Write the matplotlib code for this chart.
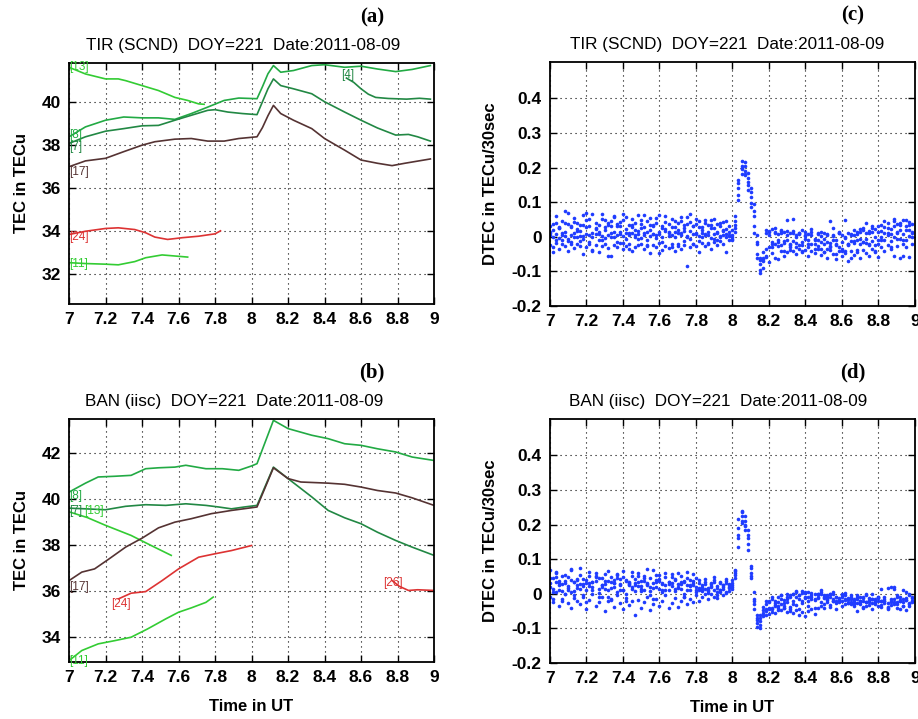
import numpy as np
import matplotlib
matplotlib.use("Agg")
import matplotlib.pyplot as plt
from matplotlib.ticker import FormatStrFormatter

plt.rcParams["font.family"] = ["Liberation Sans", "DejaVu Sans"]
plt.rcParams["axes.unicode_minus"] = False

# ---- TEC curves, station TIR (panel a): (times in UT h, TEC in TECu) ----
a_sat13_t = [7.0, 7.09, 7.2, 7.27, 7.31, 7.4, 7.49, 7.58, 7.65, 7.71, 7.74]
a_sat13_v = [41.6, 41.29, 41.06, 41.06, 40.98, 40.75, 40.52, 40.2, 40.06, 39.9, 39.88]
a_sat8_t = [7.0, 7.09, 7.2, 7.3, 7.4, 7.49, 7.58, 7.67, 7.76, 7.85, 7.93, 8.03,
            8.06, 8.09, 8.12, 8.16, 8.23, 8.33, 8.4, 8.51, 8.6, 8.69, 8.79, 8.88, 8.98]
a_sat8_v = [38.37, 38.83, 39.14, 39.29, 39.25, 39.25, 39.18, 39.45, 39.75, 40.06, 40.17, 40.14,
            40.7, 41.3, 41.68, 41.37, 41.45, 41.68, 41.72, 41.6, 41.65, 41.52, 41.4, 41.5, 41.68]
a_sat4_t = [8.52, 8.56, 8.6, 8.64, 8.68, 8.75, 8.85, 8.92, 8.98]
a_sat4_v = [41.1, 40.9, 40.6, 40.35, 40.2, 40.15, 40.12, 40.16, 40.12]
a_sat7_t = [7.0, 7.09, 7.2, 7.3, 7.4, 7.49, 7.58, 7.67, 7.76, 7.8, 7.87, 7.95, 8.03,
            8.06, 8.09, 8.12, 8.16, 8.23, 8.33, 8.4, 8.51, 8.6, 8.69, 8.79, 8.86, 8.91, 8.98]
a_sat7_v = [38.06, 38.37, 38.63, 38.75, 38.88, 38.9, 39.14, 39.37, 39.6, 39.63, 39.52, 39.45, 39.4,
            40.0, 40.6, 41.06, 40.75, 40.6, 40.37, 40.0, 39.52, 39.14, 38.78, 38.45, 38.48, 38.37, 38.17]
a_sat17_t = [7.0, 7.09, 7.2, 7.3, 7.4, 7.47, 7.58, 7.67, 7.76, 7.85, 7.93, 8.03,
             8.06, 8.09, 8.12, 8.16, 8.23, 8.33, 8.4, 8.51, 8.6, 8.69, 8.77, 8.84, 8.98]
a_sat17_v = [36.98, 37.25, 37.37, 37.68, 37.98, 38.14, 38.26, 38.29, 38.17, 38.17, 38.29, 38.37,
             38.8, 39.35, 39.83, 39.45, 39.14, 38.75, 38.29, 37.75, 37.29, 37.14, 37.03, 37.14, 37.34]
a_sat24_t = [7.0, 7.09, 7.2, 7.27, 7.36, 7.42, 7.47, 7.54, 7.62, 7.71, 7.8, 7.83]
a_sat24_v = [33.83, 33.98, 34.11, 34.14, 34.06, 33.91, 33.71, 33.6, 33.68, 33.75, 33.86, 34.0]
a_sat11_t = [7.0, 7.09, 7.2, 7.27, 7.36, 7.42, 7.51, 7.58, 7.65]
a_sat11_v = [32.52, 32.48, 32.45, 32.42, 32.57, 32.75, 32.88, 32.83, 32.78]

# ---- TEC curves, station BAN (panel b) ----
b_sat8_t = [7.0, 7.09, 7.16, 7.25, 7.34, 7.42, 7.49, 7.58, 7.64, 7.75, 7.84, 7.93, 8.0, 8.03,
            8.12, 8.2, 8.33, 8.42, 8.51, 8.6, 8.69, 8.79, 8.88, 9.0]
b_sat8_v = [40.31, 40.7, 40.97, 41.0, 41.04, 41.33, 41.37, 41.4, 41.48, 41.33, 41.33, 41.26, 41.45, 41.55,
            43.44, 43.08, 42.79, 42.64, 42.42, 42.35, 42.2, 42.06, 41.84, 41.69]
b_sat7_t = [7.0, 7.09, 7.2, 7.31, 7.42, 7.53, 7.64, 7.75, 7.82, 7.89, 7.96, 8.03,
            8.12, 8.2, 8.33, 8.42, 8.51, 8.6, 8.69, 8.79, 8.88, 9.0]
b_sat7_v = [39.61, 39.58, 39.54, 39.69, 39.76, 39.73, 39.8, 39.73, 39.66, 39.58, 39.66, 39.73,
            41.4, 40.9, 40.1, 39.51, 39.19, 38.93, 38.56, 38.2, 37.91, 37.55]
b_sat13_t = [7.0, 7.1, 7.2, 7.34, 7.45, 7.56]
b_sat13_v = [39.45, 39.2, 38.86, 38.42, 37.98, 37.55]
b_sat17_t = [7.0, 7.07, 7.14, 7.22, 7.31, 7.4, 7.49, 7.58, 7.67, 7.78, 7.89, 8.03,
             8.12, 8.2, 8.27, 8.42, 8.51, 8.6, 8.69, 8.79, 8.88, 9.0]
b_sat17_v = [36.45, 36.82, 36.96, 37.4, 37.91, 38.3, 38.75, 39.0, 39.15, 39.37, 39.51, 39.66,
             41.37, 40.9, 40.75, 40.7, 40.65, 40.53, 40.38, 40.27, 40.06, 39.73]
b_sat24_t = [7.27, 7.34, 7.42, 7.51, 7.6, 7.71, 7.8, 7.89, 8.0]
b_sat24_v = [35.65, 35.9, 35.97, 36.45, 36.96, 37.47, 37.62, 37.76, 37.98]
b_sat26_t = [8.77, 8.81, 8.86, 8.91, 9.0]
b_sat26_v = [36.45, 36.2, 36.02, 36.05, 36.02]
b_sat11_t = [7.0, 7.07, 7.16, 7.25, 7.34, 7.43, 7.53, 7.6, 7.67, 7.75, 7.79]
b_sat11_v = [32.96, 33.4, 33.69, 33.83, 33.98, 34.34, 34.78, 35.07, 35.26, 35.5, 35.73]

# ---- DTEC (1e-3 TECu/30sec), one value per minute from 7:00 UT, five satellites ----
c_dtec = [
    [32, 38, 41, 27, 45, 75, 36, 29, 44, 40, 33, 62, 48, 30, 66, 41, 35, 52, 28, 39,
     45, 60, 37, 31, 49, 58, 33, 27, 41, 64, 38, 29, 46, 55, 34, 40, 62, 31, 44, 36,
     51, 28, 39, 47, 33, 58, 42, 30, 37, 45, 29, 41, 35, 48, 26, 38, 31, 44, 22, 30,
     5, 45, 165, 218, 190, 150, 98, 30, -62, -105, -60, 12, 18, 22, 15, 8, 20, 14, 48, 10,
     18, 5, 12, 20, 2, 9, 15, -5, 8, 3, -5, 6, 45, 2, -8, 10, 4, -3, 12, 6,
     20, 8, 14, 25, 10, 18, 30, 22, 15, 35, 28, 40, 22, 45, 38, 20, 48, 32, 42, 15],
    [5, 0, 8, -3, 10, 2, -5, 6, 12, 0, 3, -6, 9, 4, -2, 7, 14, 1, -4, 5,
     10, -1, 6, 15, 2, -7, 4, 11, 0, 8, -3, 5, 13, 2, 9, -4, 7, 0, 16, 3,
     6, -2, 11, 4, 18, 1, -5, 8, 12, 3, 0, 9, 5, -3, 7, 14, 2, 6, -1, 4,
     0, 25, 120, 195, 205, 170, 128, 75, 5, -68, -90, -55, -30, -15, -22, -10, -25, -18, -8, -20,
     -12, 0, -25, -15, -5, -30, -20, -10, -28, -15, -22, -35, -18, -10, -25, -30, -15, -40, -20, -12,
     -18, -8, -22, -15, -5, -20, -12, -25, -10, -2, -8, 5, -12, 0, 10, -5, 8, -10, 3, 0],
    [-25, -30, -18, -35, -22, -28, -40, -15, -32, -20, -26, -50, -30, -22, -38, -25, -45, -28, -20, -33,
     -55, -24, -30, -18, -36, -27, -22, -42, -30, -25, -20, -35, -28, -46, -25, -30, -18, -38, -26, -32,
     -22, -40, -28, -35, -24, -85, -30, -20, -26, -45, -18, -28, -22, -35, -15, -25, -12, -20, -45, -10,
     -5, 15, 105, 180, 215, 185, 140, 95, -20, -78, -65, -58, -72, -48, -60, -65, -40, -55, -45, -38,
     -42, -50, -35, -45, -38, -55, -40, -48, -36, -52, -45, -60, -38, -50, -65, -42, -55, -48, -70, -40,
     -52, -45, -60, -38, -48, -55, -35, -42, -58, -30, -40, -25, -35, -55, -28, -62, -20, -30, -58, -22],
    [15, -45, 60, 25, -10, 40, 68, -20, 55, 18, -12, 35, 70, 50, -40, 22, -8, 65, 48, -55,
     30, 58, -15, 42, 66, 12, -35, 52, 20, -5, 48, 62, -25, 35, 8, 55, -48, 25, 60, 15,
     -30, 45, 20, 58, -12, 38, 65, -22, 50, 28, 10, 48, -18, 35, 52, -8, 40, 20, 45, 15,
     20, 60, 140, 200, 180, 135, 85, 10, -50, -95, -45, 20, 5, -30, 25, -15, 12, -40, 18, -25,
     50, -30, 10, -42, 5, -20, 22, -35, -8, 15, -45, 8, -28, 25, -50, 12, -35, 48, -20, -60,
     5, -38, 22, -15, 40, -25, 15, -45, 30, -10, 45, 10, -30, 50, -5, 35, -55, 48, 20, 38],
    [10, 20, -8, 25, 5, 15, -12, 30, 0, 22, 18, 2, 28, -15, 12, 25, 8, -10, 20, 35,
     -2, 15, 30, 8, -18, 22, 12, 35, 5, 18, 25, 12, -10, 20, 30, 5, 15, -15, 22, 10,
     28, 15, -20, 12, 25, 0, 18, 32, 8, -12, 20, 5, 15, 25, -5, 12, 0, 18, 8, 2,
     -8, 35, 155, 205, 178, 158, 115, 60, -15, -60, -70, -35, 15, -20, 10, -28, 18, -12, 5, -30,
     12, -18, 8, -25, 15, -8, 5, -22, 12, -35, 10, -15, -30, 5, -20, 15, -40, 0, -25, 8,
     -12, 15, -5, 20, -18, 10, 25, 0, -20, 18, 12, 25, 8, 30, 15, 40, -8, 20, 35, 10],
]
d_dtec = [
    [70, 45, 60, 38, 52, 30, 48, 72, 35, 42, 55, 28, 40, 62, 33, 50, 45, 25, 58, 38,
     48, 30, 55, 42, 65, 36, 28, 50, 44, 60, 38, 52, 32, 45, 70, 40, 55, 30, 48, 35,
     58, 42, 28, 50, 36, 62, 40, 25, 45, 30, 20, 35, 18, 28, 40, 22, 30, 15, 38, 25,
     30, 70, 215, 240, 225, 185, 80, -20, -95, -60, -48, -30, -22, -15, -28, -10, -5, -18, 0, -8,
     -2, 5, -5, 8, 2, -10, 3, 0, -8, 5, -12, -5, 0, -15, -8, -20, -10, 2, -15, -5,
     -18, -10, -25, -12, -5, -20, -15, -28, -8, -22, -15, 18, -20, 15, -25, -10, 12, -18, -5, -12],
    [20, 5, 35, 12, 28, 0, 18, 40, 8, 25, 15, -5, 30, 22, 10, 38, 2, 20, 28, -8,
     18, 32, 5, 25, 12, -2, 30, 20, 8, 35, 22, 10, 28, -5, 18, 35, 15, 5, 25, 12,
     30, 8, 20, 15, -2, 25, 10, 32, 5, 18, 8, 15, 2, 20, 10, -5, 12, 25, 5, 18,
     15, 55, 170, 225, 210, 170, 60, -30, -70, -80, -55, -60, -40, -52, -35, -48, -30, -42, -25, -38,
     -20, -32, -15, -28, -10, -22, -5, -18, -12, 0, -8, -15, -2, -20, -10, -25, -5, -18, -12, -30,
     -25, -15, -30, -20, -35, -18, -28, -22, -12, -32, -20, -38, -25, -15, -30, -22, -35, -18, -28, -10],
    [-10, -25, 5, -35, -15, 0, -28, -40, -12, -20, -30, -8, -45, -18, -2, -35, -25, -10, -50, -20,
     -15, -38, -5, -28, -45, -12, -32, -22, -60, -18, -40, -25, -10, -48, -30, -15, -35, -20, -5, -42,
     -28, -12, -38, -22, -8, -30, -15, -25, -5, -20, -10, -2, -15, 0, -8, -12, 5, -5, 2, 8,
     20, 45, 135, 205, 195, 160, 50, -45, -85, -70, -65, -50, -58, -45, -55, -40, -48, -35, -52, -45,
     -55, -48, -60, -52, -65, -50, -45, -58, -40, -35, -30, -25, -38, -20, -28, -15, -22, -30, -18, -25,
     -35, -28, -20, -40, -25, -32, -15, -30, -22, -38, -28, -45, -32, -25, -40, -20, -35, -48, -30, -25],
    [45, -15, 62, 30, -20, 55, 10, 68, -5, 40, 75, 22, -25, 50, 35, 60, -10, 45, 15, 65,
     -18, 40, 58, 12, 48, -22, 35, 62, 25, 52, 8, 45, 72, 20, -15, 55, 38, 10, 60, 28,
     48, 15, 60, 35, -10, 45, 22, 58, 12, 40, 25, 42, 10, 30, 48, 5, 35, 20, 42, 28,
     25, 65, 190, 235, 200, 125, 75, 5, -60, -90, -38, -20, -45, -10, -32, -25, -5, -40, -15, -50,
     -30, -8, -45, -20, 5, -35, -15, -42, -2, -25, -40, -10, -32, 0, -45, -18, -35, -5, -28, -15,
     -30, -50, -10, -38, 0, -25, -45, -15, -35, 15, -22, -40, 20, -30, -8, -45, -15, 5, -35, -20],
    [30, 15, 48, 25, 8, 38, 22, 5, 35, 18, 28, 42, 10, 32, 20, 48, 15, 25, 38, 12,
     35, 20, 45, 28, 10, 40, 25, 15, 32, 22, 15, 38, 25, 8, 30, 20, 42, 28, 12, 35,
     22, 40, 18, 28, 35, 12, 25, 38, 20, 10, 15, 28, 8, 22, 35, 18, 12, 25, 30, 20,
     40, 60, 160, 210, 185, 145, 45, -15, -75, -100, -60, -45, -25, -40, -20, -35, -15, -28, -10, -5,
     0, 8, -5, 2, -12, 5, -8, -15, -2, 10, -5, -18, -10, 5, -22, -12, 0, -15, -28, -8,
     -15, -5, -20, -10, -25, -12, -2, -18, -8, -22, -10, -28, -15, 20, -5, -18, -25, -12, -2, -20],
]
dtec_minutes = np.arange(120)

GREEN_L = "#33cc33"
GREEN_M = "#22aa44"
GREEN_D = "#228844"
BROWN = "#553333"
RED = "#dd3333"
BLUE = "#1f3cff"

panel_a = [
    (a_sat13_t, a_sat13_v, GREEN_L, "[13]", 7.0, 41.62),
    (a_sat8_t, a_sat8_v, GREEN_M, "[8]", 7.0, 38.45),
    (a_sat4_t, a_sat4_v, GREEN_D, "[4]", 8.49, 41.25),
    (a_sat7_t, a_sat7_v, GREEN_D, "[7]", 7.0, 37.9),
    (a_sat17_t, a_sat17_v, BROWN, "[17]", 7.0, 36.75),
    (a_sat24_t, a_sat24_v, RED, "[24]", 7.0, 33.7),
    (a_sat11_t, a_sat11_v, GREEN_L, "[11]", 7.0, 32.45),
]
panel_b = [
    (b_sat8_t, b_sat8_v, GREEN_M, "[8]", 7.0, 40.12),
    (b_sat7_t, b_sat7_v, GREEN_D, "[7]", 7.0, 39.5),
    (b_sat13_t, b_sat13_v, GREEN_L, "[13]", 7.085, 39.5),
    (b_sat17_t, b_sat17_v, BROWN, "[17]", 7.0, 36.15),
    (b_sat24_t, b_sat24_v, RED, "[24]", 7.23, 35.45),
    (b_sat26_t, b_sat26_v, RED, "[26]", 8.72, 36.35),
    (b_sat11_t, b_sat11_v, GREEN_L, "[11]", 7.0, 32.95),
]

fig = plt.figure(figsize=(9.18, 7.19), dpi=100, facecolor="white")
ax_a = fig.add_axes([0.0752, 0.5772, 0.3976, 0.3352])
ax_b = fig.add_axes([0.0752, 0.0793, 0.3976, 0.3380])
ax_c = fig.add_axes([0.5990, 0.5744, 0.3976, 0.3394])
ax_d = fig.add_axes([0.5990, 0.0779, 0.3976, 0.3394])


def style(ax, title, title_x, letter):
    ax.set_xlim(7, 9)
    ax.set_xticks(np.arange(7, 9.01, 0.2))
    ax.xaxis.set_major_formatter(FormatStrFormatter("%g"))
    ax.yaxis.set_major_formatter(FormatStrFormatter("%g"))
    ax.grid(True, color="black", linestyle=(0, (1, 3.5)), linewidth=0.8)
    ax.tick_params(direction="in", top=True, right=True, length=5, width=1,
                   labelsize=12.5, pad=6)
    for lab in ax.get_xticklabels() + ax.get_yticklabels():
        lab.set_fontweight("bold")
    for s in ax.spines.values():
        s.set_linewidth(1.3)
    ax.set_title(title, fontsize=12.3, pad=9, x=title_x)
    ax.text(0.83, 1.19, letter, transform=ax.transAxes, ha="center", va="center",
            fontsize=15, fontweight="bold", family="Liberation Serif")


for ax, curves, title, tx, letter, ylim, yt in [
    (ax_a, panel_a, "TIR (SCND)  DOY=221  Date:2011-08-09", 0.478, "(a)", (30.6, 41.8), np.arange(32, 41, 2)),
    (ax_b, panel_b, "BAN (iisc)  DOY=221  Date:2011-08-09", 0.451, "(b)", (32.9, 43.5), np.arange(34, 43, 2)),
]:
    for t, v, col, lab, lx, ly in curves:
        ax.plot(t, v, color=col, lw=1.2)
        ax.text(lx, ly, lab, color=col, fontsize=8.5, ha="left", va="center")
    ax.set_ylim(*ylim)
    ax.set_yticks(yt)
    style(ax, title, tx, letter)
    ax.set_ylabel("TEC in TECu", fontsize=12, fontweight="bold", labelpad=9)

for ax, tracks, title, tx, letter in [
    (ax_c, c_dtec, "TIR (SCND)  DOY=221  Date:2011-08-09", 0.486, "(c)"),
    (ax_d, d_dtec, "BAN (iisc)  DOY=221  Date:2011-08-09", 0.462, "(d)"),
]:
    for tr in tracks:
        ax.plot(7 + dtec_minutes / 60.0, np.array(tr) / 1000.0, linestyle="none",
                marker="o", markersize=2.6, markeredgewidth=0, color=BLUE)
    ax.set_ylim(-0.2, 0.505)
    ax.set_yticks(np.arange(-0.2, 0.41, 0.1))
    style(ax, title, tx, letter)
    ax.set_ylabel("DTEC in TECu/30sec", fontsize=12, fontweight="bold", labelpad=10)

for ax in (ax_b, ax_d):
    ax.set_xlabel("Time in UT", fontsize=12, fontweight="bold", labelpad=10)

fig.savefig("out.png", dpi=100, facecolor="white")
